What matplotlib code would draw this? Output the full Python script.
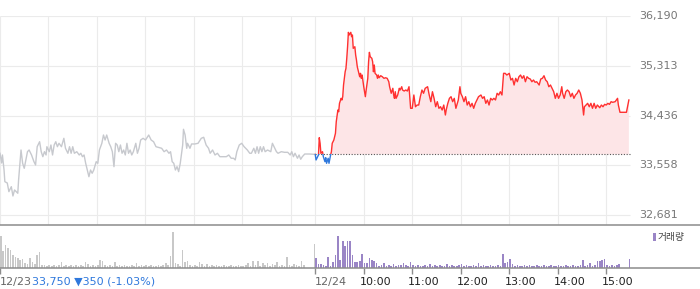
import numpy as np
import matplotlib
matplotlib.use("Agg")
import matplotlib.pyplot as plt
import matplotlib.transforms as mtransforms
from matplotlib.patches import Rectangle

# ---------------------------------------------------------------
# data  (time = minutes from 12/23 09:00, 12/24 09:00 = 390)
# ---------------------------------------------------------------
prev_time = [0, 2, 3, 5, 6, 9, 11, 14, 16, 18, 20, 22, 23, 26, 28, 30, 32, 34, 36, 39,
             42, 44, 46, 49, 51, 53, 55, 57, 58, 61, 63, 65, 67, 69, 71, 73, 76, 79, 81, 84,
             86, 88, 90, 92, 95, 98, 100, 102, 104, 106, 108, 110, 112, 114, 116, 119, 121, 123, 126, 128,
             130, 132, 135, 137, 139, 141, 143, 145, 147, 149, 151, 153, 155, 157, 159, 161, 163, 165, 168, 170,
             172, 174, 177, 180, 184, 187, 190, 193, 200, 203, 206, 209, 211, 213, 215, 217, 219, 221, 223, 226,
             227, 229, 231, 232, 235, 237, 241, 245, 249, 252, 255, 258, 260, 263, 266, 269, 272, 276, 280, 283,
             286, 289, 291, 293, 296, 299, 302, 306, 309, 311, 314, 316, 318, 320, 322, 324, 326, 328, 331, 335,
             337, 340, 342, 344, 348, 352, 356, 359, 361, 363, 365, 368, 370, 372, 374, 377, 383, 390]
prev_price = [33770, 33599, 33740, 33475, 33269, 33246, 33093, 33181, 33017, 33123, 33093, 33065, 33299, 33828, 33593, 33505, 33652, 33798, 33828, 33740,
              33622, 33564, 33886, 33974, 33798, 33710, 33798, 33740, 33886, 33798, 33916, 33740, 33916, 33974, 33886, 33946, 33886, 34034, 33858, 33770,
              33886, 33770, 33886, 33770, 33798, 33740, 33770, 33710, 33740, 33593, 33475, 33357, 33475, 33417, 33475, 33622, 33593, 33828, 33946, 34092,
              34004, 34092, 33946, 33886, 33798, 33534, 33946, 33916, 33798, 33916, 33770, 33828, 33740, 33946, 33770, 33828, 33740, 33798, 33946, 33770,
              33858, 34004, 34034, 34004, 34092, 34004, 33974, 33886, 33858, 33798, 33828, 33770, 33798, 33622, 33593, 33475, 33534, 33446, 33593, 33916,
              34193, 34092, 33858, 33946, 33858, 33934, 33934, 33946, 34034, 34052, 33916, 33858, 33770, 33828, 33740, 33770, 33710, 33710, 33710, 33740,
              33682, 33682, 33652, 33798, 33916, 33946, 33886, 33828, 33770, 33770, 33858, 33770, 33886, 33770, 33886, 33798, 33886, 33798, 33828, 33798,
              33946, 33858, 33798, 33770, 33798, 33787, 33787, 33740, 33798, 33710, 33770, 33682, 33740, 33664, 33710, 33757, 33757, 33750]

today_time = [390, 391, 394, 395, 396, 397, 399, 400, 402, 403, 404, 406, 407, 409, 410, 411, 413, 415, 416, 418,
              419, 420, 422, 423, 424, 425, 427, 428, 429, 430, 431, 432, 434, 435, 436, 437, 439, 440, 441, 442,
              444, 445, 446, 447, 448, 450, 451, 452, 453, 455, 456, 457, 458, 460, 461, 462, 463, 464, 466, 467,
              468, 469, 471, 473, 475, 477, 479, 481, 482, 483, 484, 486, 487, 488, 489, 490, 492, 494, 495, 497,
              498, 500, 502, 504, 506, 508, 510, 512, 514, 516, 518, 520, 522, 524, 526, 529, 531, 533, 535, 537,
              539, 541, 543, 545, 547, 549, 551, 552, 554, 556, 558, 560, 562, 564, 567, 569, 570, 572, 574, 576,
              578, 580, 582, 584, 586, 588, 590, 592, 595, 597, 599, 601, 603, 605, 607, 609, 611, 613, 615, 617,
              619, 621, 623, 625, 627, 630, 632, 634, 636, 638, 640, 642, 644, 646, 648, 650, 652, 654, 656, 658,
              660, 662, 664, 667, 669, 671, 673, 675, 677, 679, 681, 683, 685, 687, 689, 691, 693, 695, 696, 698,
              700, 702, 704, 706, 708, 710, 712, 714, 716, 718, 720, 722, 723, 725, 727, 729, 731, 733, 735, 737,
              739, 742, 744, 746, 748, 750, 752, 754, 756, 758, 761, 764, 765, 767, 771, 775, 778]
today_price = [33750, 33652, 33740, 34045, 33946, 33770, 33798, 33710, 33622, 33692, 33593, 33682, 33593, 33740, 33798, 33946, 34004, 34122, 34327, 34533,
               34503, 34651, 34739, 34710, 34768, 34974, 35208, 35268, 35445, 35649, 35903, 35856, 35903, 35826, 35856, 35621, 35649, 35503, 35415, 35297,
               35180, 35120, 35180, 35092, 35150, 34944, 34856, 34768, 34886, 35092, 35385, 35550, 35473, 35445, 35385, 35208, 35327, 35180, 35150, 35092,
               35150, 35102, 35138, 35120, 35092, 35102, 35092, 35032, 34944, 34886, 34828, 34916, 34798, 34739, 34856, 34739, 34798, 34916, 34886, 34944,
               34886, 34868, 34886, 34868, 34944, 34563, 34563, 34798, 34591, 34621, 34621, 34768, 34886, 34828, 34916, 34944, 34798, 34680, 34856, 34739,
               34591, 34680, 34563, 34591, 34533, 34621, 34445, 34533, 34651, 34739, 34768, 34680, 34739, 34563, 34710, 34944, 34828, 34768, 34680, 34768,
               34621, 34680, 34591, 34651, 34563, 34651, 34710, 34768, 34798, 34739, 34768, 34651, 34710, 34621, 34739, 34710, 34739, 34710, 34828, 34798,
               34856, 34798, 35180, 35180, 35150, 35180, 35062, 35092, 34974, 35092, 35032, 35120, 35150, 35092, 35138, 35032, 35120, 35092, 35080, 35032,
               35062, 35022, 35032, 34974, 35080, 35092, 35138, 35062, 35032, 34944, 34974, 34916, 34856, 34739, 34828, 34739, 34798, 34944, 34828, 34739,
               34856, 34886, 34856, 34768, 34828, 34739, 34798, 34828, 34886, 34828, 34710, 34445, 34591, 34621, 34651, 34591, 34651, 34563, 34651, 34563,
               34621, 34574, 34621, 34591, 34633, 34621, 34651, 34633, 34680, 34669, 34680, 34739, 34621, 34493, 34493, 34493, 34710]

prev_close = 33750

# volume, 3-minute buckets (thousand shares), plus closing auction
vol_prev = [32, 17, 23, 20, 18, 13, 11, 10, 8, 9, 5, 4, 10, 6, 4, 13, 16, 3,
            3, 2, 3, 2, 3, 2, 3, 6, 2, 3, 2, 3,
            2, 3, 2, 3, 2, 6, 4, 2, 3, 2,
            3, 8, 7, 3, 2, 3, 2, 6, 2, 3,
            2, 3, 2, 2, 3, 2, 5, 2, 3, 2,
            3, 2, 3, 2, 2, 3, 2, 3, 5, 3,
            12, 36, 5, 4, 2, 18, 6, 7, 3, 2,
            3, 2, 6, 4, 2, 4, 2, 3, 2, 3,
            2, 2, 3, 2, 2, 3, 2, 2, 3, 2,
            2, 3, 5, 2, 7, 3, 7, 2, 5, 3,
            5, 2, 4, 3, 6, 2, 3, 2, 11, 3,
            2, 4, 3, 2, 7, 3, 0, 0, 0, 0]
vol_prev_close = 24
vol_today = [10, 4, 4, 3, 2, 11, 2, 6, 13, 32,
             8, 27, 22, 27, 27, 13, 6, 6, 7, 14,
             5, 5, 10, 8, 7, 5, 2, 3, 5, 2,
             3, 2, 4, 2, 3, 3, 5, 3, 2, 6,
             3, 2, 3, 2, 2, 3, 2, 4, 2, 3,
             2, 3, 2, 2, 4, 2, 3, 2, 2, 3,
             4, 2, 3, 2, 2, 3, 2, 5, 2, 3,
             2, 2, 3, 2, 2, 3, 2, 14, 5, 6,
             9, 4, 2, 3, 2, 2, 3, 2, 3, 2,
             2, 3, 2, 2, 3, 2, 2, 3, 2, 2,
             3, 2, 2, 3, 2, 2, 3, 2, 2, 3,
             8, 2, 3, 5, 2, 3, 7, 7, 8, 9,
             3, 2, 3, 2, 3, 4, 0, 0, 0, 0]
vol_today_close = 9

price_ticks = [32681, 33558, 34436, 35313, 36190]
prev_hours = [0, 60, 120, 180, 240, 300, 360]
hour_ticks = [390, 450, 510, 570, 630, 690, 750]
hour_labels = ["12/24", "10:00", "11:00", "12:00", "13:00", "14:00", "15:00"]

# ---------------------------------------------------------------
# layout
# ---------------------------------------------------------------
W, H = 700, 289
XMAX = 866
YMIN, YMAX = 32505, 36200

RED = "#ff3030"
BLUE = "#2f78dc"
PINK = "#fde5e7"
GREY_LINE = "#c7c9ce"
PURPLE = "#9a85c6"
AXIS = "#8c8c8c"
GRID = "#ebebeb"


def box(l, t, r, b):
    return [l / W, 1 - b / H, (r - l) / W, (b - t) / H]


fig = plt.figure(figsize=(7, 2.89), dpi=100)
ax = fig.add_axes(box(0, 15.5, 700, 225))
axv = fig.add_axes(box(0, 226, 700, 268))

for a in (ax, axv):
    a.set_xlim(0, XMAX)
    for s in ("top", "left", "right"):
        a.spines[s].set_visible(False)
    a.spines["bottom"].set_color(AXIS)
    a.spines["bottom"].set_linewidth(1.1)
    a.set_yticks([])
ax.set_ylim(YMIN, YMAX)
ax.set_xticks([])

# grid
ax.hlines(price_ticks, 0, 780, color=GRID, lw=0.8, zorder=0)
ax.vlines(prev_hours + hour_ticks, YMIN, 36190, color=GRID, lw=0.8, zorder=0)

# previous day
ax.plot(prev_time, prev_price, color=GREY_LINE, lw=1.0, zorder=2)

# today
tt = np.array(today_time)
tp = np.array(today_price)
ax.fill_between(tt, prev_close, tp, where=tp >= prev_close, interpolate=True,
                color=PINK, lw=0, zorder=1)
ax.hlines(prev_close, 390, 780, color="#555555", lw=0.8, linestyles=(0, (1, 1.5)), zorder=2)
red_line, = ax.plot(tt, tp, color=RED, lw=1.0, zorder=3)
blue_line, = ax.plot(tt, tp, color=BLUE, lw=1.0, zorder=3)
red_line.set_clip_path(Rectangle((380, prev_close), 420, 5000, transform=ax.transData))
blue_line.set_clip_path(Rectangle((380, prev_close - 5000), 420, 5000, transform=ax.transData))

# price labels on the right
for p in price_ticks:
    ax.text(791, p, f"{p:,}", ha="left", va="center", fontsize=8,
            color="#777777", clip_on=False)

# volume
axv.set_ylim(0, 42)
pv_x = list(np.arange(len(vol_prev)) * 3 + 1) + [389]
tv_x = list(np.arange(len(vol_today)) * 3 + 391) + [779]
axv.bar(pv_x, vol_prev + [vol_prev_close], width=2.0, color="#c8c8c8", lw=0)
axv.bar(tv_x, vol_today + [vol_today_close], width=2.0, color=PURPLE, lw=0)
axv.set_xticks([0] + hour_ticks)
axv.tick_params(axis="x", length=4, width=1, color=AXIS, labelbottom=False)

# legend
fig.add_artist(Rectangle((653 / W, 1 - 241 / H), 2.5 / W, 8 / H,
                         transform=fig.transFigure, color=PURPLE, lw=0))
fig.text(658 / W, 1 - 237 / H, "거래량", ha="left", va="center", fontsize=7,
         color="#444444", family=["Noto Sans CJK KR", "DejaVu Sans"])

# bottom labels
ty = 1 - 282 / H
fig.text(0, ty, "12/23", ha="left", va="center", fontsize=8, color="#666666")
fig.text(32 / W, ty, "33,750 ▼350 (-1.03%)", ha="left", va="center", fontsize=8, color=BLUE)
trans = mtransforms.blended_transform_factory(axv.transData, fig.transFigure)
for t, lab in zip(hour_ticks, hour_labels):
    if lab == "12/24":
        axv.text(t, ty, lab, transform=trans, ha="left", va="center", fontsize=8, color="#666666")
    else:
        axv.text(t - 5, ty, lab, transform=trans, ha="left", va="center", fontsize=8,
                 color="#222222")

fig.savefig("out.png", dpi=100)
